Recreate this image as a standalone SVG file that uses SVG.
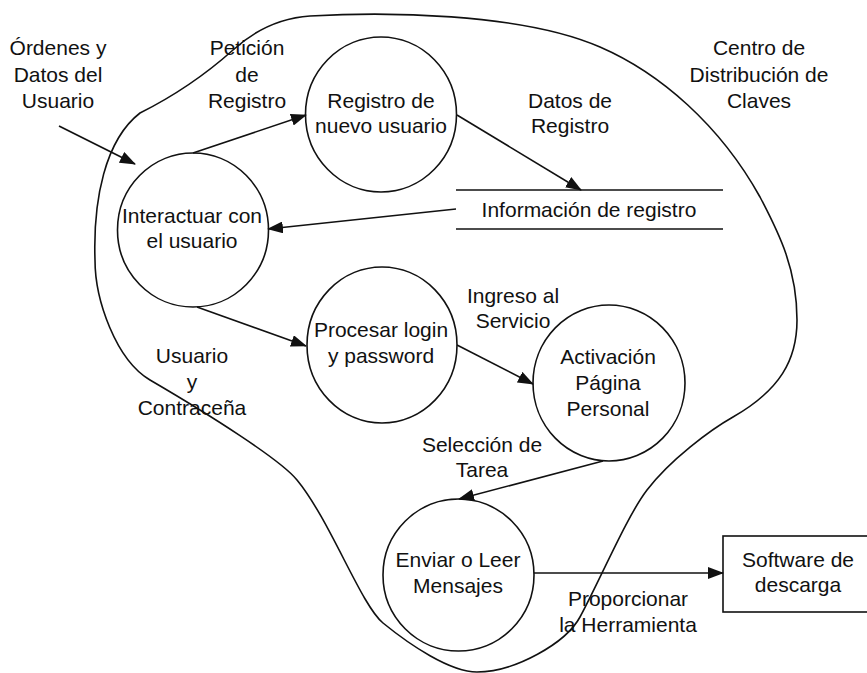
<svg xmlns="http://www.w3.org/2000/svg" width="867" height="673" viewBox="0 0 867 673">
<style>
.bg{fill:#ffffff}
.ln{fill:none;stroke:#111;stroke-width:1.6}
.nd{fill:none;stroke:#111;stroke-width:1.6}
.t{font-family:"Liberation Sans",Arial,sans-serif;font-size:21px;fill:#111;text-anchor:middle}
</style>
<defs>
<marker id="ah" markerUnits="userSpaceOnUse" markerWidth="16" markerHeight="12" refX="15" refY="6" orient="auto">
<path d="M0,0 L16,6 L0,12 Z" fill="#111"/>
</marker>
</defs>
<rect class="bg" x="0" y="0" width="867" height="673"/>

<g id="boundary">
<path class="ln" d="M95,260 C93,200 105,140 140,113 C170,98 205,75 233,50 C255,30 280,18 310,16 C380,12 520,12 600,47 C660,73 720,125 760,197 C780,235 797,270 797,320 C797,360 780,390 733,417 C710,430 670,460 647,490 C627,516 600,580 580,617 C566,643 515,672 477,672 C450,672 410,645 383,623 C361,605 330,520 297,480 C281,460 210,415 150,380 C116,360 95,300 95,260 Z"/>
<text class="t" x="759" y="55">Centro de</text>
<text class="t" x="759" y="82">Distribución de</text>
<text class="t" x="759" y="108">Claves</text>
</g>

<g id="ext-ordenes">
<text class="t" x="58" y="55">Órdenes y</text>
<text class="t" x="58" y="82">Datos del</text>
<text class="t" x="58" y="108">Usuario</text>
</g>

<g id="p-interactuar">
<ellipse class="nd" cx="193" cy="230" rx="75.5" ry="77"/>
<text class="t" x="192" y="223">Interactuar con</text>
<text class="t" x="192" y="248">el usuario</text>
</g>

<g id="p-registro">
<ellipse class="nd" cx="381" cy="114.5" rx="75.5" ry="77.5"/>
<text class="t" x="381" y="108">Registro de</text>
<text class="t" x="381" y="133">nuevo usuario</text>
</g>

<g id="store-info">
<line class="nd" x1="456" y1="190" x2="723" y2="190"/>
<line class="nd" x1="456" y1="229" x2="723" y2="229"/>
<text class="t" x="589" y="217">Información de registro</text>
</g>

<g id="p-login">
<ellipse class="nd" cx="382" cy="345" rx="75" ry="78"/>
<text class="t" x="381" y="337">Procesar login</text>
<text class="t" x="381" y="363">y password</text>
</g>

<g id="p-activacion">
<ellipse class="nd" cx="609" cy="383" rx="76" ry="78"/>
<text class="t" x="608" y="364">Activación</text>
<text class="t" x="608" y="390">Página</text>
<text class="t" x="608" y="416">Personal</text>
</g>

<g id="p-mensajes">
<ellipse class="nd" cx="458.5" cy="575" rx="75.5" ry="76"/>
<text class="t" x="458" y="567">Enviar o Leer</text>
<text class="t" x="458" y="593">Mensajes</text>
</g>

<g id="ext-software">
<rect class="nd" x="723" y="536" width="160" height="76"/>
<text class="t" x="798" y="567">Software de</text>
<text class="t" x="798" y="592">descarga</text>
</g>

<g id="connectors">
<line class="ln" x1="59" y1="126" x2="135" y2="164" marker-end="url(#ah)"/>
<line class="ln" x1="193" y1="153" x2="306" y2="115" marker-end="url(#ah)"/>
<line class="ln" x1="457" y1="115" x2="581" y2="190" marker-end="url(#ah)"/>
<line class="ln" x1="456" y1="209" x2="268" y2="229" marker-end="url(#ah)"/>
<line class="ln" x1="197" y1="307" x2="306" y2="346" marker-end="url(#ah)"/>
<line class="ln" x1="457" y1="345" x2="533" y2="384" marker-end="url(#ah)"/>
<line class="ln" x1="603" y1="461" x2="459" y2="499" marker-end="url(#ah)"/>
<line class="ln" x1="534" y1="573" x2="723" y2="573" marker-end="url(#ah)"/>
<text class="t" x="247" y="55">Petición</text>
<text class="t" x="247" y="82">de</text>
<text class="t" x="247" y="108">Registro</text>
<text class="t" x="570" y="108">Datos de</text>
<text class="t" x="570" y="133">Registro</text>
<text class="t" x="513" y="303">Ingreso al</text>
<text class="t" x="513" y="328">Servicio</text>
<text class="t" x="192" y="363">Usuario</text>
<text class="t" x="192" y="389">y</text>
<text class="t" x="192" y="415">Contraceña</text>
<text class="t" x="482" y="452">Selección de</text>
<text class="t" x="482" y="477">Tarea</text>
<text class="t" x="628" y="606">Proporcionar</text>
<text class="t" x="628" y="632">la Herramienta</text>
</g>
</svg>
